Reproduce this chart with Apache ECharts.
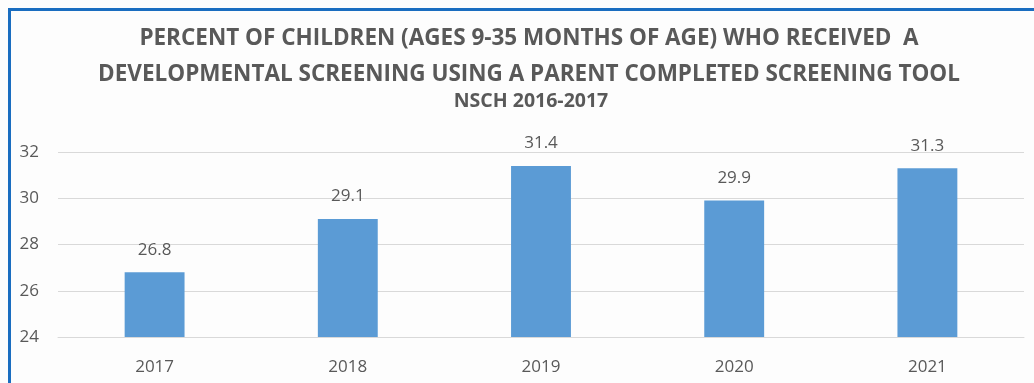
<!DOCTYPE html>
<html>
<head>
<meta charset="utf-8">
<script src="https://cdn.jsdelivr.net/npm/echarts@6/dist/echarts.min.js"></script>
<style>
  html, body { margin: 0; padding: 0; background: #ffffff; }
  #wrap { position: relative; width: 1034px; height: 383px; overflow: hidden; background: #fdfdfd; }
  #chart { position: absolute; left: 0; top: 0; width: 1034px; height: 383px; }
  #frame { position: absolute; left: 8px; top: 8px; width: 1100px; height: 500px;
           border-left: 3px solid #1a6dc0; border-top: 3px solid #1a6dc0; pointer-events: none; }
</style>
</head>
<body>
<div id="wrap">
  <div id="chart"></div>
  <div id="frame"></div>
</div>
<script>
// Survey years and screening percentages
const years = ['2017', '2018', '2019', '2020', '2021'];
const percents = [26.8, 29.1, 31.4, 29.9, 31.3];
const yTicks = { min: 24, max: 32, step: 2 };

const titleLines = [
  'PERCENT OF CHILDREN (AGES 9-35 MONTHS OF AGE) WHO RECEIVED  A',
  'DEVELOPMENTAL SCREENING USING A PARENT COMPLETED SCREENING TOOL'
];
const subtitle = 'NSCH 2016-2017';

const textColor = '#595959';
const font = '"Open Sans", "Liberation Sans", sans-serif';

const chart = echarts.init(document.getElementById('chart'), null, { renderer: 'canvas' });
chart.setOption({
  backgroundColor: 'transparent',
  animation: false,
  title: [
    {
      text: titleLines.join('\n'),
      left: 524, top: 16, textAlign: 'center',
      textStyle: { fontFamily: font, fontWeight: 'bold', fontSize: 22.5, lineHeight: 36, color: textColor }
    },
    {
      text: subtitle,
      left: 526, top: 86, textAlign: 'center',
      textStyle: { fontFamily: font, fontWeight: 'bold', fontSize: 19.5, color: textColor }
    }
  ],
  grid: { left: 58, right: 10, top: 152, bottom: 46 },
  xAxis: {
    type: 'category',
    data: years,
    axisTick: { show: false },
    axisLine: { lineStyle: { color: '#d9d9d9', width: 1 } },
    axisLabel: { color: textColor, fontFamily: font, fontSize: 17, margin: 22 }
  },
  yAxis: {
    type: 'value',
    min: yTicks.min, max: yTicks.max, interval: yTicks.step,
    axisLine: { show: false },
    axisTick: { show: false },
    splitLine: { lineStyle: { color: '#d9d9d9', width: 1 } },
    axisLabel: { color: textColor, fontFamily: font, fontSize: 17, margin: 19 }
  },
  series: [{
    type: 'bar',
    data: percents,
    barWidth: '31%',
    itemStyle: { color: '#5b9bd5' },
    label: {
      show: true, position: 'top', distance: 14,
      color: textColor, fontFamily: font, fontSize: 17,
      formatter: p => p.value.toFixed(1)
    }
  }]
});
</script>
</body>
</html>
